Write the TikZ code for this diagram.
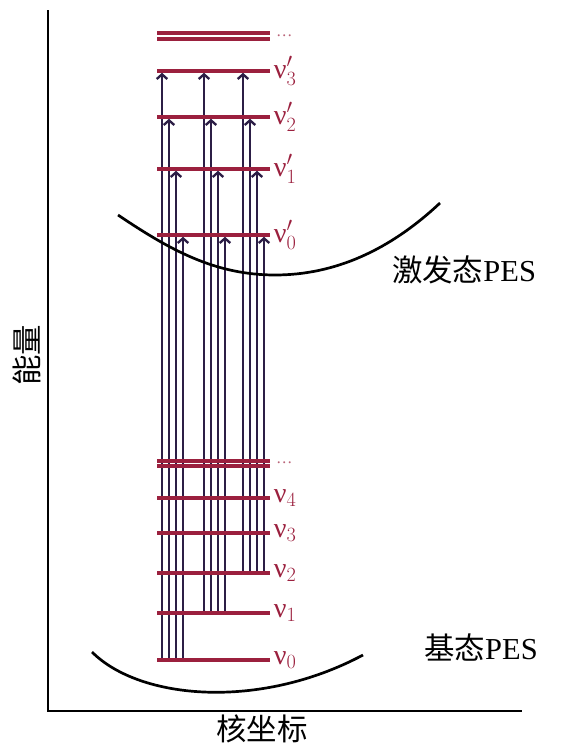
\documentclass[tikz,border=0pt]{standalone}
\usepackage{fontspec}
\setmainfont{Liberation Serif}
\newfontfamily\cjk{Noto Sans CJK SC}
\usetikzlibrary{calc,arrows.meta}
\definecolor{lvlred}{RGB}{155,32,62}
\definecolor{trnpurple}{RGB}{44,30,70}
\tikzset{
    lvl/.style={draw=lvlred, line width=2.8pt},
    trn/.style={draw=trnpurple, line width=2pt, -{Straight Barb[length=4pt,width=9pt]}, shorten >=1.5pt},
    vlbl/.style={text=lvlred, font=\fontsize{24}{26}\selectfont, anchor=west, inner sep=2pt},
    pes/.style={draw=black, line width=2.3pt},
    lbl/.style={font=\fontsize{26}{28}\selectfont, inner sep=0pt},
}
\begin{document}
\begin{tikzpicture}[x=0.03cm,y=-0.03cm]
    \useasboundingbox (0,0) rectangle (562,753);
    % axes
    \coordinate (ytop) at (48,10);
    \coordinate (orig) at (48,711);
    \coordinate (xend) at (522,711);
    \draw [line width=2.3pt] (ytop) -- (orig) -- (xend);
    \node [lbl, rotate=90] (ylab) at (27,355) {\cjk 能量};
    \node [lbl] (xlab) at (262,729) {\cjk 核坐标};
    % ground and excited levels
    \foreach \n/\y in {0/660,1/613,2/573,3/533,4/498}
        \coordinate (g\n) at (157,\y);
    \foreach \n/\y in {0/235,1/169,2/117,3/71}
        \coordinate (e\n) at (157,\y);
    % transitions
    \foreach \s/\dx in {g0/5,g1/47,g2/86}
        \foreach \e [count=\i] in {e3,e2,e1,e0}
            \draw [trn] ($(\s)+({\dx+7*\i-7},0)$) coordinate (a) -- (a |- \e);
    \foreach \n in {0,...,4}
        \draw [lvl] (g\n) -- ++(113,0) node [vlbl] {ν$_{\n}$};
    \foreach \n in {0,...,3}
        \draw [lvl] (e\n) -- ++(113,0) node [vlbl] {ν$'_{\n}$};
    \draw [lvl] (157,461) -- (270,461);
    \draw [lvl] (157,466) -- (270,466);
    \draw [lvl] (157,33) -- (270,33);
    \draw [lvl] (157,39) -- (270,39);
    \node [text=lvlred!70, font=\fontsize{14}{16}\selectfont, anchor=west] (gdots) at (272,463) {\dots};
    \node [text=lvlred!70, font=\fontsize{14}{16}\selectfont, anchor=west] (edots) at (272,36) {\dots};
    % PES
    \draw [pes] (118,215) .. controls (170,250) and (215,275) .. (275,275)
                .. controls (335,275) and (390,250) .. (440,203);
    \draw [pes] (92,652) .. controls (140,700) and (260,710) .. (363,655);
    \node [lbl] (exc) at (464,270) {{\cjk 激发态}PES};
    \node [lbl] (gnd) at (481,648) {{\cjk 基态}PES};
\end{tikzpicture}
\end{document}
